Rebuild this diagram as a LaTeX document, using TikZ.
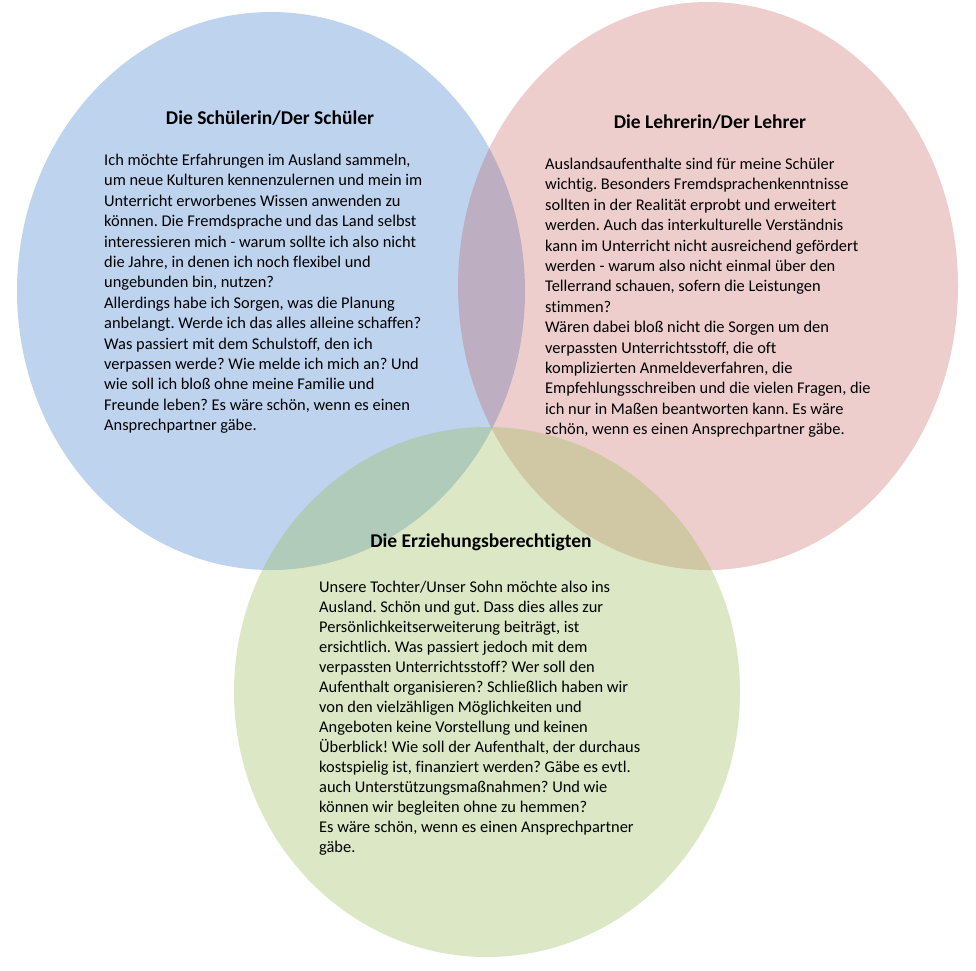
\documentclass[tikz,border=0pt]{standalone}
\usepackage{fontspec}
\setmainfont{Carlito}[Ligatures=NoCommon]
\usepackage{tikz}
\usetikzlibrary{shapes.geometric, positioning}
\definecolor{myblue}{RGB}{91,145,213}
\definecolor{myred}{RGB}{192,80,77}
\definecolor{mygreen}{RGB}{155,187,89}
\frenchspacing
\tikzset{
  blob/.style={ellipse, draw=none, inner sep=0pt},
  titletext/.style={font=\fontsize{19.5}{23}\selectfont\bfseries, inner sep=0pt},
  bodytext/.style={font=\fontsize{16.4}{20.4}\selectfont, align=left,
    anchor=north west, inner sep=0pt}
}

\begin{document}
\begin{tikzpicture}[x=1pt, y=-1pt]
  \useasboundingbox (0,0) rectangle (976,970);

  % circles
  \node[blob, fill=myblue, fill opacity=0.4, minimum width=508pt, minimum height=558pt] (schueler) at (271,291) {};
  \node[blob, fill=myred, fill opacity=0.28, minimum width=500pt, minimum height=568pt] (lehrer) at (708,286) {};
  \node[blob, fill=mygreen, fill opacity=0.35, minimum width=506pt, minimum height=530pt] (eltern) at (487,692) {};

  % Schueler
  \node[titletext] (tschueler) at (270,118) {Die Schülerin/Der Schüler};
  \node[bodytext] (bschueler) at (104,154) {Ich möchte Erfahrungen im Ausland sammeln,\\
    um neue Kulturen kennenzulernen und mein im\\
    Unterricht erworbenes Wissen anwenden zu\\
    können. Die Fremdsprache und das Land selbst\\
    interessieren mich - warum sollte ich also nicht\\
    die Jahre, in denen ich noch flexibel und\\
    ungebunden bin, nutzen?\\
    Allerdings habe ich Sorgen, was die Planung\\
    anbelangt. Werde ich das alles alleine schaffen?\\
    Was passiert mit dem Schulstoff, den ich\\
    verpassen werde? Wie melde ich mich an? Und\\
    wie soll ich bloß ohne meine Familie und\\
    Freunde leben? Es wäre schön, wenn es einen\\
    Ansprechpartner gäbe.};

  % Lehrer
  \node[titletext] (tlehrer) at (710,122) {Die Lehrerin/Der Lehrer};
  \node[bodytext] (blehrer) at (545,158) {Auslandsaufenthalte sind für meine Schüler\\
    wichtig. Besonders Fremdsprachenkenntnisse\\
    sollten in der Realität erprobt und erweitert\\
    werden. Auch das interkulturelle Verständnis\\
    kann im Unterricht nicht ausreichend gefördert\\
    werden - warum also nicht einmal über den\\
    Tellerrand schauen, sofern die Leistungen\\
    stimmen?\\
    Wären dabei bloß nicht die Sorgen um den\\
    verpassten Unterrichtsstoff, die oft\\
    komplizierten Anmeldeverfahren, die\\
    Empfehlungsschreiben und die vielen Fragen, die\\
    ich nur in Maßen beantworten kann. Es wäre\\
    schön, wenn es einen Ansprechpartner gäbe.};

  % Erziehungsberechtigte
  \node[titletext] (teltern) at (481,542) {Die Erziehungsberechtigten};
  \node[bodytext, font=\fontsize{16.4}{20}\selectfont] (beltern) at (319,581) {Unsere Tochter/Unser Sohn möchte also ins\\
    Ausland. Schön und gut. Dass dies alles zur\\
    Persönlichkeitserweiterung beiträgt, ist\\
    ersichtlich. Was passiert jedoch mit dem\\
    verpassten Unterrichtsstoff? Wer soll den\\
    Aufenthalt organisieren? Schließlich haben wir\\
    von den vielzähligen Möglichkeiten und\\
    Angeboten keine Vorstellung und keinen\\
    Überblick! Wie soll der Aufenthalt, der durchaus\\
    kostspielig ist, finanziert werden? Gäbe es evtl.\\
    auch Unterstützungsmaßnahmen? Und wie\\
    können wir begleiten ohne zu hemmen?\\
    Es wäre schön, wenn es einen Ansprechpartner\\
    gäbe.};
\end{tikzpicture}
\end{document}
